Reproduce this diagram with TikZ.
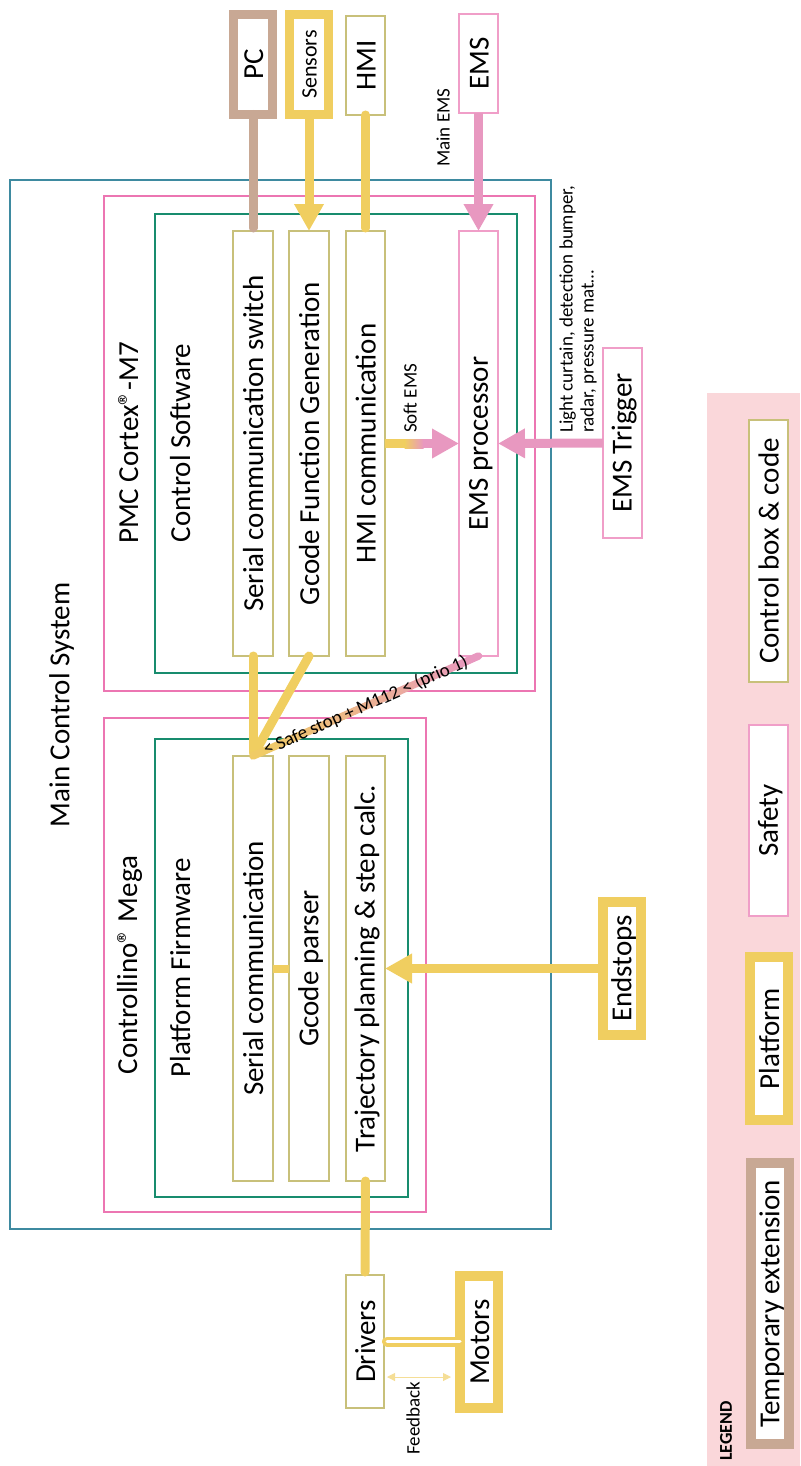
\documentclass[tikz,border=0pt]{standalone}
\usepackage{fontspec}
\setmainfont{Carlito}
\usepackage{graphicx}
\usetikzlibrary{arrows.meta,calc}

\definecolor{outerline}{RGB}{62,138,160}
\definecolor{boardline}{RGB}{236,118,178}
\definecolor{swline}{RGB}{24,140,110}
\definecolor{ctrlbox}{RGB}{200,192,122}
\definecolor{safety}{RGB}{240,158,200}
\definecolor{platform}{RGB}{240,206,96}
\definecolor{tempext}{RGB}{200,168,148}
\definecolor{emsline}{RGB}{232,152,192}
\definecolor{legendbg}{RGB}{250,215,218}
\definecolor{feedback}{RGB}{245,222,150}

% text turned a quarter, with a fixed strut so all labels sit alike
\newcommand{\vtxt}[1]{\rotatebox{90}{\rule[-.1em]{0pt}{.9em}#1}}

\tikzset{
	bigtxt/.style={font=\fontsize{29}{34}\selectfont, inner sep=0pt},
	smalltxt/.style={font=\fontsize{19}{21}\selectfont, inner sep=0pt},
	basebox/.style={rectangle, inner sep=0pt, outer sep=0pt, fill=white, bigtxt},
	codebox/.style={basebox, draw=ctrlbox, line width=1.5},
	safebox/.style={basebox, draw=safety, line width=1.5},
	platbox/.style={basebox, draw=platform, line width=9.5},
	tempbox/.style={basebox, draw=tempext, line width=9.5},
	wire/.style={line width=9, line cap=round, shorten >=3},
	platwire/.style={wire, draw=platform},
	tempwire/.style={wire, draw=tempext},
	platarrow/.style={draw=platform, line width=9, -{Triangle[length=27pt,width=28pt]}},
	emsarrow/.style={draw=emsline, line width=9, -{Triangle[length=27pt,width=28pt]}},
}

\begin{document}
\begin{tikzpicture}[x=1pt, y=-1pt]
	%%%%% START %%%%%
	\useasboundingbox (0,0) rectangle (800,1466);
	
	% legend background
	\fill[legendbg] (707,393) rectangle (800,1466);
	
	% main control system and its two boards
	\draw[outerline, line width=1.5] (10,180) rectangle (551,1229);
	\draw[boardline, line width=1.5] (104,196) rectangle (535,691);
	\draw[swline, line width=1.5] (155,214) rectangle (517,673);
	\draw[boardline, line width=1.5] (104,718) rectangle (426,1212);
	\draw[swline, line width=1.5] (155,739) rectangle (408,1197);
	
	\node[bigtxt] (mcs) at (60,705) {\vtxt{Main Control System}};
	\node[bigtxt] (pmc) at (128,443) {\vtxt{PMC Cortex®-M7}};
	\node[bigtxt] (ctlsw) at (180,443) {\vtxt{Control Software}};
	\node[bigtxt] (ctlmega) at (128,965) {\vtxt{Controllino® Mega}};
	\node[bigtxt] (platfw) at (180,968) {\vtxt{Platform Firmware}};
	
	% outside inputs
	\node[tempbox, minimum width=39, minimum height=100] (pc) at (253,64.5) {\vtxt{PC}};
	\node[platbox, minimum width=39, minimum height=100, font=\fontsize{22}{26}\selectfont] (sensors) at (309,64.5) {\vtxt{Sensors}};
	\node[codebox, minimum width=39, minimum height=99] (hmi) at (365.5,65.5) {\vtxt{HMI}};
	\node[safebox, minimum width=39, minimum height=99] (ems) at (478.5,63.5) {\vtxt{EMS}};
	
	% control software
	\node[codebox, minimum width=40, minimum height=425] (sws) at (253,443.5) {\vtxt{Serial communication switch}};
	\node[codebox, minimum width=40, minimum height=425] (gfg) at (309,443.5) {\vtxt{Gcode Function Generation}};
	\node[codebox, minimum width=39, minimum height=425] (hmc) at (365.5,443.5) {\vtxt{HMI communication}};
	\node[safebox, minimum width=39, minimum height=425] (emp) at (478.5,443.5) {\vtxt{EMS processor}};
	
	% platform firmware
	\node[codebox, minimum width=40, minimum height=425] (scom) at (253,968.5) {\vtxt{Serial communication}};
	\node[codebox, minimum width=40, minimum height=425] (gpar) at (309,968.5) {\vtxt{Gcode parser}};
	\node[codebox, minimum width=39, minimum height=425] (traj) at (365.5,968.5) {\vtxt{Trajectory planning \& step calc.}};
	
	\node[safebox, minimum width=39, minimum height=190] (trig) at (622.5,443) {\vtxt{EMS Trigger}};
	\node[platbox, minimum width=38, minimum height=133] (endst) at (622,968.5) {\vtxt{Endstops}};
	\node[codebox, minimum width=38, minimum height=133] (drv) at (365,1341.5) {\vtxt{Drivers}};
	\node[platbox, minimum width=38, minimum height=132] (mot) at (479,1342) {\vtxt{Motors}};
	
	% links
	\draw[tempwire] (pc.south) -- (sws.north);
	\draw[platarrow] (sensors.south) -- (gfg.north);
	\draw[platwire] (hmi.south) -- (hmc.north);
	\draw[emsarrow] (ems.south) -- (emp.north);
	\node[smalltxt, anchor=south] (mainems) at (443,167) {\vtxt{Main EMS}};
	
	\coordinate (sfa) at ($(hmc.east)+(20,0)$);
	\coordinate (sfb) at ($(hmc.east)+(38,0)$);
	\draw[platform, line width=9] (hmc.east) -- (sfa);
	\shade[left color=platform, right color=emsline] ($(sfa)+(-0.5,-4.5)$) rectangle ($(sfb)+(0.5,4.5)$);
	\draw[emsarrow] (sfb) -- (emp.west);
	\node[smalltxt, anchor=south] (softems) at (410,433) {\vtxt{Soft EMS}};
	
	\draw[emsarrow] (trig.west) -- (emp.east);
	\node[smalltxt, anchor=south] (trigtxt) at (579,433) {\rotatebox{90}{\begin{tabular}{@{}l@{}}Light curtain, detection bumper,\\radar, pressure mat…\end{tabular}}};
	
	\draw[platwire] (sws.south) -- (scom.north);
	\draw[platwire] (gfg.south) -- (scom.north);
	\foreach \i in {0,...,19}{
		\pgfmathtruncatemacro\mix{100-5*\i}
		\draw[line width=7.5, line cap=round, color=emsline!\mix!platform] ($(emp.south)!\i/20!(scom.north)$) -- ($(emp.south)!\i/20+0.05!(scom.north)$);
	}
	\path (emp.south) -- (scom.north) node[smalltxt, sloped, midway] (safestop) {< Safe stop + M112 < (prio 1)};
	
	\draw[platform, line width=8] (scom.east) -- (gpar.west);
	\draw[platarrow] (endst.west) -- (traj.east);
	\draw[platwire] (traj.south) -- (drv.north);
	
	\draw[platform, line width=3.5, double=white, double distance=3, line cap=round] ($(drv.east)+(3,0)$) -- (drv.east -| mot.west);
	\coordinate (fbl) at (387,1377);
	\coordinate (fbr) at (451,1377);
	\draw[feedback, line width=1, {Triangle[length=8pt,width=8pt]}-{Triangle[length=8pt,width=8pt]}] (fbl) -- (fbr);
	\node[smalltxt, anchor=south] (fbtxt) at (413,1455) {\vtxt{Feedback}};
	
	% legend
	\node[codebox, minimum width=39, minimum height=262] (lcode) at (768.5,551) {\vtxt{Control box \& code}};
	\node[safebox, minimum width=39, minimum height=191] (lsafe) at (768.5,820.5) {\vtxt{Safety}};
	\node[platbox, minimum width=38, minimum height=163] (lplat) at (769,1038.5) {\vtxt{Platform}};
	\node[tempbox, minimum width=38, minimum height=281] (ltemp) at (770,1303.5) {\vtxt{Temporary extension}};
	\node[font=\fontsize{18}{20}\selectfont\bfseries, inner sep=0pt] (legend) at (726,1431) {\rotatebox{90}{LEGEND}};
	
	%%%%% END %%%%%
\end{tikzpicture}
\end{document}
